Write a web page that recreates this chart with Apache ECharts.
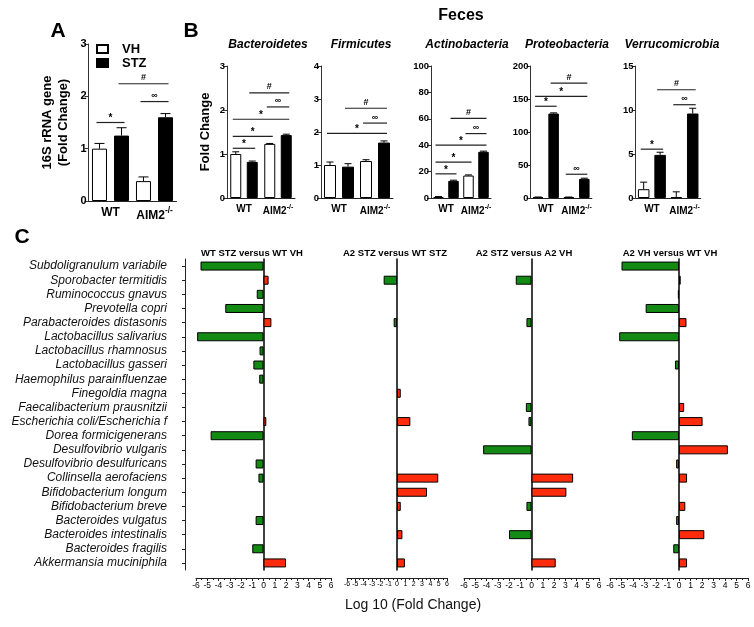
<!DOCTYPE html>
<html><head><meta charset="utf-8">
<script src="https://cdn.jsdelivr.net/npm/echarts@6/dist/echarts.min.js"></script>
<style>html,body{margin:0;padding:0;background:#fff}#c{width:754px;height:627px}</style>
</head><body><div id="c"></div>
<script>
const FONT = '"Liberation Sans", Arial, sans-serif';

// ---------- Panel A data ----------
const groups = ['WT', 'AIM2'];
const aVH = [1.00, 0.38];
const aVHErr = [0.10, 0.08];
const aSTZ = [1.25, 1.60];
const aSTZErr = [0.15, 0.07];
const aSig = [[0, 1, 1.50], [1, 3, 2.24], [2, 3, 1.90]];
const aSigSym = ['*', '#', '∞'];

// ---------- Panel B data ----------
const phyla = ['Bacteroidetes', 'Firmicutes', 'Actinobacteria', 'Proteobacteria', 'Verrucomicrobia'];
const bactVH = [1.00, 1.23], bactVHErr = [0.05, 0.01];
const bactSTZ = [0.82, 1.43], bactSTZErr = [0.02, 0.02];
const bactSig = [[0, 1, 1.13], [0, 2, 1.40], [0, 3, 1.79], [2, 3, 2.07], [1, 3, 2.39]];
const bactSigSym = ['*', '*', '*', '∞', '#'];
const firmVH = [1.00, 1.12], firmVHErr = [0.09, 0.04];
const firmSTZ = [0.95, 1.68], firmSTZErr = [0.09, 0.05];
const firmSig = [[0, 3, 1.96], [2, 3, 2.27], [1, 3, 2.72]];
const firmSigSym = ['*', '∞', '#'];
const actiVH = [0.8, 17], actiVHErr = [0.3, 0.5];
const actiSTZ = [13, 35], actiSTZErr = [0.5, 0.5];
const actiSig = [[0, 1, 18.3], [0, 2, 27.2], [0, 3, 40], [2, 3, 48.8], [1, 3, 60.3]];
const actiSigSym = ['*', '*', '*', '∞', '#'];
const protVH = [1, 1], protVHErr = [0.5, 0.5];
const protSTZ = [128, 29], protSTZErr = [1, 1];
const protSig = [[0, 1, 139], [0, 3, 154], [1, 3, 174], [2, 3, 36]];
const protSigSym = ['*', '*', '#', '∞'];
const verrVH = [1.0, 0.1], verrVHErr = [0.8, 0.6];
const verrSTZ = [4.9, 9.6], verrSTZErr = [0.3, 0.6];
const verrSig = [[0, 1, 5.55], [2, 3, 10.6], [1, 3, 12.3]];
const verrSigSym = ['*', '∞', '#'];
const bMax = [3, 4, 100, 200, 15];
const bInterval = [1, 1, 20, 50, 5];

// ---------- Panel C data ----------
const taxa = ['Subdoligranulum variabile', 'Sporobacter termitidis', 'Ruminococcus gnavus', 'Prevotella copri',
  'Parabacteroides distasonis', 'Lactobacillus salivarius', 'Lactobacillus rhamnosus', 'Lactobacillus gasseri',
  'Haemophilus parainfluenzae', 'Finegoldia magna', 'Faecalibacterium prausnitzii', 'Escherichia coli/Escherichia f',
  'Dorea formicigenerans', 'Desulfovibrio vulgaris', 'Desulfovibrio desulfuricans', 'Collinsella aerofaciens',
  'Bifidobacterium longum', 'Bifidobacterium breve', 'Bacteroides vulgatus', 'Bacteroides intestinalis',
  'Bacteroides fragilis', 'Akkermansia muciniphila'];
const cTitles = ['WT STZ versus WT VH', 'A2 STZ versus WT STZ', 'A2 STZ versus A2 VH', 'A2 VH versus WT VH'];
const wtStzVsWtVh = [-5.6, 0.45, -0.6, -3.4, 0.7, -5.9, -0.35, -0.9, -0.38, 0, 0, 0.25, -4.7, 0, -0.7, -0.45, 0, 0, -0.7, 0, -1.0, 2.0];
const a2StzVsWtStz = [0, -1.6, 0, 0, -0.4, 0, 0, 0, 0, 0.45, 0, 1.6, 0, 0, 0, 4.95, 3.6, 0.45, 0, 0.65, 0, 0.95];
const a2StzVsA2Vh = [0, -1.4, 0, 0, -0.45, 0, 0, 0, 0, 0, -0.5, -0.27, 0, -4.3, 0, 3.7, 3.1, -0.45, 0, -2.0, 0, 2.15];
const a2VhVsWtVh = [-5.0, 0.15, -0.1, -2.9, 0.65, -5.2, 0, -0.35, 0, 0, 0.45, 2.05, -4.1, 4.25, -0.25, 0.7, 0, 0.55, -0.25, 2.2, -0.5, 0.7];
const xTicksC = [-6, 6, 1];

// ---------- build ----------
const GREEN = '#138A13', RED = '#FF2B0D';
const grid = [], xAxis = [], yAxis = [], series = [], graphic = [];

function gtext(text, x, y, font, color) {
  graphic.push({type: 'text', x: x, y: y, silent: true,
    style: {text: text, font: font, fill: color || '#000', textAlign: 'center', textVerticalAlign: 'middle', align: 'center', verticalAlign: 'middle'}});
}

function barPanel(cfg) {
  const gi = grid.length;
  grid.push({left: cfg.left, top: cfg.top, width: cfg.width, height: cfg.height, outerBoundsMode: 'none', containLabel: false});
  xAxis.push({gridIndex: gi, type: 'category', data: groups,
    axisLine: {show: true, lineStyle: {color: '#222', width: 1}}, axisTick: {show: false}, splitLine: {show: false},
    axisLabel: {margin: cfg.xMargin, interval: 0, formatter: v => v === 'AIM2' ? '{n|AIM2}{s|-/-}' : '{n|' + v + '}',
      rich: {n: {fontSize: cfg.xFont, fontWeight: 'bold', fontFamily: FONT, color: '#000', verticalAlign: 'bottom'},
             s: {fontSize: cfg.xFont * 0.7, fontWeight: 'bold', fontFamily: FONT, color: '#000', verticalAlign: 'bottom', padding: [0, 0, cfg.xFont * 0.55, 0]}}}});
  yAxis.push({gridIndex: gi, type: 'value', min: 0, max: cfg.max, interval: cfg.interval,
    name: cfg.yName || '', nameLocation: 'middle', nameRotate: 90, nameGap: cfg.nameGap || 15,
    nameTextStyle: {fontFamily: FONT, fontWeight: 'bold', fontSize: cfg.nameFont || 13, color: '#000', lineHeight: 16},
    axisLine: {show: true, lineStyle: {color: '#333', width: 1}},
    axisTick: {show: true, inside: false, length: 4, lineStyle: {color: '#333'}},
    splitLine: {show: false},
    axisLabel: {fontFamily: FONT, fontWeight: 'bold', fontSize: cfg.yFont, color: '#000', margin: 2, hideOverlap: false}});
  const xi = xAxis.length - 1, yi = yAxis.length - 1;
  const off = cfg.barWidth * (1 + cfg.barGap / 100) / 2;
  series.push({type: 'bar', name: 'VH', xAxisIndex: xi, yAxisIndex: yi, data: cfg.vh, barWidth: cfg.barWidth, barGap: cfg.barGap + '%',
    itemStyle: {color: '#fff', borderColor: '#000', borderWidth: 1}, silent: true});
  series.push({type: 'bar', name: 'STZ', xAxisIndex: xi, yAxisIndex: yi, data: cfg.stz, barWidth: cfg.barWidth, barGap: cfg.barGap + '%',
    itemStyle: {color: '#000', borderColor: '#000', borderWidth: 1}, silent: true});
  const errData = [];
  cfg.vh.forEach((v, i) => errData.push([i, v, cfg.vhErr[i], -1]));
  cfg.stz.forEach((v, i) => errData.push([i, v, cfg.stzErr[i], 1]));
  const cap = cfg.cap;
  series.push({type: 'custom', xAxisIndex: xi, yAxisIndex: yi, data: errData, encode: {x: 0, y: 1}, z: 5, silent: true,
    renderItem: (params, api) => {
      const d = errData[params.dataIndex];
      const p0 = api.coord([d[0], d[1]]);
      const p1 = api.coord([d[0], d[1] + d[2]]);
      const x = p0[0] + d[3] * off;
      return {type: 'group', children: [
        {type: 'line', shape: {x1: x, y1: p0[1], x2: x, y2: p1[1]}, style: {stroke: '#000', lineWidth: 1}},
        {type: 'line', shape: {x1: x - cap, y1: p1[1], x2: x + cap, y2: p1[1]}, style: {stroke: '#000', lineWidth: 1}}]};
    }});
  const sigData = cfg.sig.map(s => [0, s[2]]);
  series.push({type: 'custom', xAxisIndex: xi, yAxisIndex: yi, data: sigData, encode: {x: 0, y: 1}, z: 5, silent: true,
    renderItem: (params, api) => {
      const s = cfg.sig[params.dataIndex];
      const bx = b => api.coord([Math.floor(b / 2), s[2]])[0] + (b % 2 === 0 ? -off : off);
      const y = api.coord([0, s[2]])[1];
      const x1 = bx(s[0]) - 3, x2 = bx(s[1]) + 3;
      const sym = cfg.sigSym[params.dataIndex];
      return {type: 'group', children: [
        {type: 'line', shape: {x1: x1, y1: y, x2: x2, y2: y}, style: {stroke: '#222', lineWidth: 1.2}},
        {type: 'text', x: (x1 + x2) / 2, y: y - (sym === '*' ? 4 : 6),
          style: {text: sym, font: 'bold ' + (sym === '*' ? 10 : 9) + 'px ' + FONT, fill: '#000',
            textAlign: 'center', textVerticalAlign: 'middle', align: 'center', verticalAlign: 'middle'}}]};
    }});
}

// Panel A
barPanel({left: 88.5, top: 44, width: 88, height: 157, max: 3, interval: 1, vh: aVH, vhErr: aVHErr, stz: aSTZ, stzErr: aSTZErr,
  sig: aSig, sigSym: aSigSym, barWidth: 15, barGap: 47, cap: 5, yName: '16S rRNA gene\n(Fold Change)', nameGap: 17,
  nameFont: 13, yFont: 11, xFont: 12, xMargin: 6});

// Panel B
const bData = [
  [bactVH, bactVHErr, bactSTZ, bactSTZErr, bactSig, bactSigSym],
  [firmVH, firmVHErr, firmSTZ, firmSTZErr, firmSig, firmSigSym],
  [actiVH, actiVHErr, actiSTZ, actiSTZErr, actiSig, actiSigSym],
  [protVH, protVHErr, protSTZ, protSTZErr, protSig, protSigSym],
  [verrVH, verrVHErr, verrSTZ, verrSTZErr, verrSig, verrSigSym]];
const bLayout = [
  {left: 227, width: 68, bw: 11, gap: 50, tx: 268},
  {left: 321, width: 72, bw: 12, gap: 50, tx: 361},
  {left: 431, width: 60, bw: 10.5, gap: 43, tx: 467},
  {left: 530.5, width: 61.4, bw: 10.5, gap: 48, tx: 567},
  {left: 635.6, width: 65.2, bw: 11.5, gap: 43, tx: 672}];
bData.forEach((d, i) => {
  const L = bLayout[i];
  barPanel({left: L.left, top: 66, width: L.width, height: 132, max: bMax[i], interval: bInterval[i],
    vh: d[0], vhErr: d[1], stz: d[2], stzErr: d[3], sig: d[4], sigSym: d[5], barWidth: L.bw, barGap: L.gap, cap: 3.5,
    yName: i === 0 ? 'Fold Change' : '', nameGap: 14, nameFont: 13, yFont: 9.5, xFont: 10, xMargin: 6});
  gtext(phyla[i], L.tx, 45, 'italic bold 12px ' + FONT);
});

// Panel C
const cValues = [wtStzVsWtVh, a2StzVsWtStz, a2StzVsA2Vh, a2VhVsWtVh];
const cLayout = [{left: 196, width: 135, tx: 252, lf: 8.5}, {left: 347, width: 100, tx: 395, lf: 7},
                 {left: 464, width: 135, tx: 524, lf: 8.5}, {left: 610, width: 138, tx: 670, lf: 8.5}];
cValues.forEach((vals, i) => {
  const L = cLayout[i];
  const gi = grid.length;
  grid.push({left: L.left, top: 259, width: L.width, height: 311, outerBoundsMode: 'none', containLabel: false});
  xAxis.push({gridIndex: gi, type: 'value', min: xTicksC[0], max: xTicksC[1], interval: xTicksC[2], offset: 8,
    axisLine: {show: true, onZero: false, lineStyle: {color: '#222', width: 1}},
    axisTick: {show: true, inside: false, length: 3, lineStyle: {color: '#222'}},
    minorTick: {show: true, splitNumber: 2, length: 2, lineStyle: {color: '#222'}},
    splitLine: {show: false}, minorSplitLine: {show: false},
    axisLabel: {fontFamily: FONT, fontSize: L.lf, color: '#000', margin: 3, hideOverlap: false}});
  const xi = xAxis.length - 1;
  if (i === 0) {
    yAxis.push({gridIndex: gi, type: 'category', data: taxa, inverse: true, position: 'left', offset: 11,
      axisLine: {show: true, onZero: false, lineStyle: {color: '#222', width: 1}},
      axisTick: {show: true, alignWithLabel: true, inside: false, length: 3, lineStyle: {color: '#222'}},
      splitLine: {show: false},
      axisLabel: {interval: 0, fontFamily: FONT, fontStyle: 'italic', fontSize: 12, color: '#111', margin: 18, hideOverlap: false}});
  }
  yAxis.push({gridIndex: gi, type: 'category', data: taxa, inverse: true, position: 'left',
    axisLine: {show: true, onZero: true, lineStyle: {color: '#000', width: 1.5}},
    axisTick: {show: false}, axisLabel: {show: false}, splitLine: {show: false}});
  const yi = yAxis.length - 1;
  series.push({type: 'bar', xAxisIndex: xi, yAxisIndex: yi, barWidth: 9, silent: true,
    data: vals.map(v => v === 0 ? '-' : {value: v, itemStyle: {color: v < 0 ? GREEN : RED}}),
    itemStyle: {borderColor: '#000', borderWidth: 1}});
  gtext(cTitles[i], L.tx, 253, 'bold 9.5px ' + FONT);
});

// Letters and titles
gtext('A', 58, 31, 'bold 21px ' + FONT);
gtext('B', 191, 31, 'bold 21px ' + FONT);
gtext('C', 22, 237, 'bold 21px ' + FONT);
gtext('Feces', 461, 16, 'bold 16px ' + FONT);
gtext('Log 10 (Fold Change)', 413, 605, '14px ' + FONT, '#111');

const chart = echarts.init(document.getElementById('c'));
chart.setOption({
  animation: false,
  backgroundColor: '#fff',
  textStyle: {fontFamily: FONT},
  legend: {data: ['VH', 'STZ'], left: 96, top: 42, orient: 'vertical', icon: 'rect', itemWidth: 11, itemHeight: 8, itemGap: 0,
    selectedMode: false, padding: 0,
    textStyle: {fontFamily: FONT, fontWeight: 'bold', fontSize: 13, lineHeight: 14, color: '#000', padding: [0, 0, 0, 9]}},
  grid: grid, xAxis: xAxis, yAxis: yAxis, series: series, graphic: graphic
});
</script></body></html>
